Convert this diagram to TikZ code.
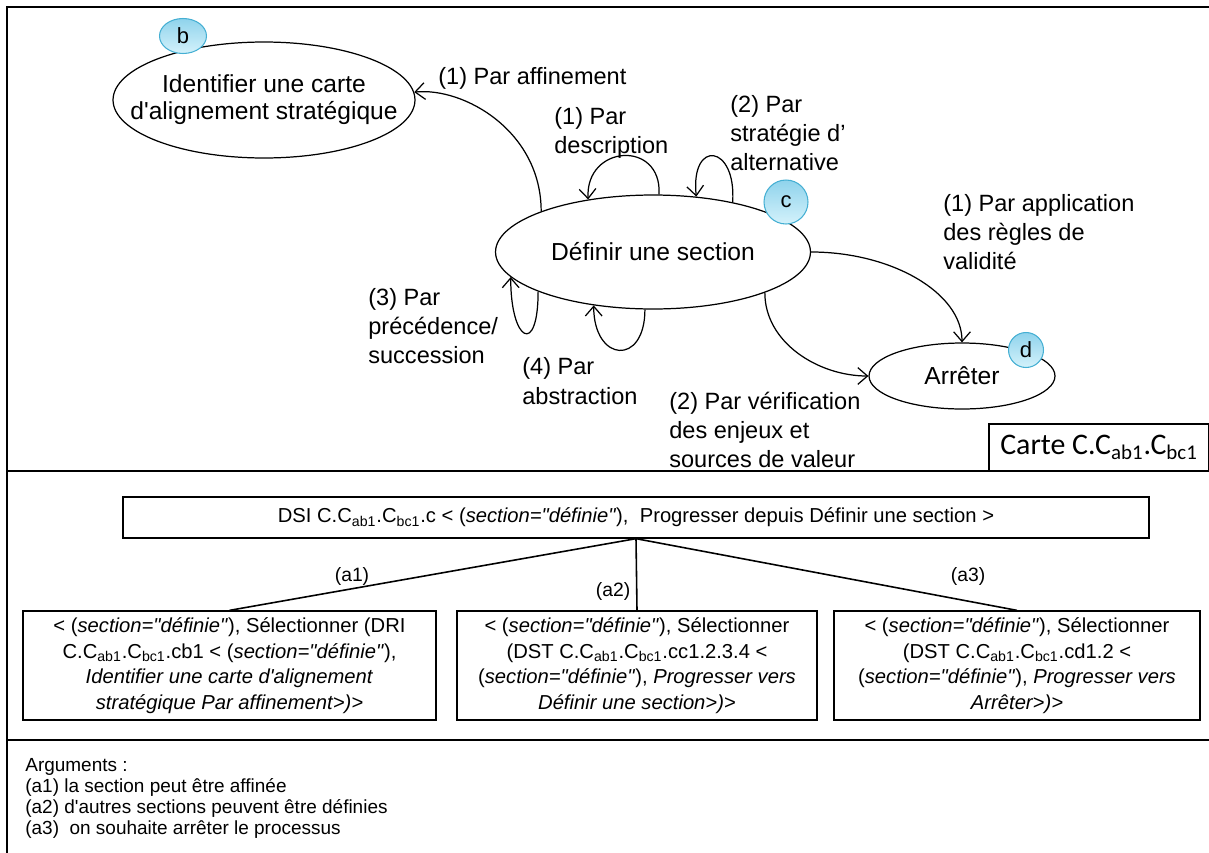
\documentclass[tikz,border=0pt]{standalone}
\usepackage{fontspec}
\setmainfont{Liberation Sans}
\newfontfamily\carlito{Carlito}
\usetikzlibrary{arrows.meta,shapes.geometric}
\definecolor{badgetop}{HTML}{8FD3EC}
\definecolor{badgebot}{HTML}{D4F2FB}
\definecolor{badgeline}{HTML}{45AFD3}
\newcommand{\Cabc}{C.C\textsubscript{ab1}.C\textsubscript{bc1}}
\newcommand{\defi}{\textit{section=\textquotedbl définie\textquotedbl}}

\begin{document}
\begin{tikzpicture}[x=0.02cm, y=-0.02cm,
    goal/.style={ellipse, draw, line width=0.7pt, inner sep=0pt},
    goaltxt/.style={align=center, inner sep=0pt, font=\fontsize{14}{15.3}\selectfont},
    badge/.style={ellipse, draw=badgeline, line width=0.6pt, top color=badgetop, bottom color=badgebot, inner sep=0pt, font=\fontsize{12.5}{14}\selectfont},
    lbl/.style={anchor=west, align=left, inner sep=0pt, font=\fontsize{13.4}{16.7}\selectfont},
    arr/.style={-{Straight Barb[length=5.5pt,width=9.5pt]}, line width=0.7pt},
    sect/.style={draw, line width=0.75pt, align=center, inner sep=2pt, font=\fontsize{11.5}{14.6}\selectfont},
    tree/.style={line width=0.9pt},
    sep/.style={line width=1.2pt}
  ]
  \useasboundingbox (0,0) rectangle (1209,852);
  \draw[sep] (1209.5,7) -- (7,7) -- (7,853);
  \draw[sep] (7,471) -- (1209,471);
  \draw[sep] (7,740) -- (1209,740);

  \node[goal, minimum width=6.04cm, minimum height=2.32cm] (b) at (264,100) {};
  \node[goaltxt] (bt) at (b) {Identifier une carte\\d\textquotesingle alignement stratégique};
  \node[goal, minimum width=6.3cm, minimum height=2.28cm] (c) at (653,252) {};
  \node[goaltxt] (ct) at (c) {Définir une section};
  \node[goal, minimum width=3.72cm, minimum height=1.32cm] (d) at (962,376) {};
  \node[goaltxt] (dt) at (d) {Arrêter};

  \node[badge, minimum width=0.94cm, minimum height=0.70cm] (bb) at (183,36) {b};
  \node[badge, minimum size=0.88cm] (bc) at (786,202) {c};
  \node[badge, minimum size=0.70cm] (bd) at (1026,350) {d};

  \draw[arr] (c.160) .. controls +(0,-80) and +(50,-5) .. (b.3);
  \draw[arr] (c.84) .. controls +(3,-55) and +(-3,-55) .. (c.141);
  \draw[arr] (c.32) .. controls +(4,-58) and +(-6,-58) .. (c.52);
  \draw[arr] (c.199) .. controls +(0,65) and +(0,65) .. (c.190);
  \draw[arr] (c.262) .. controls +(0,57) and +(0,57) .. (c.222);
  \draw[arr] (c.east) .. controls +(80,0) and +(0,-50) .. (d.north);
  \draw[arr] (c.340) .. controls +(0,50) and +(-50,0) .. (d.west);

  \node[lbl] (laff) at (438,78) {(1) Par affinement};
  \node[lbl] (ldesc) at (554,133) {(1) Par\\description};
  \node[lbl] (lalt) at (730,133) {(2) Par\\stratégie d’\\alternative};
  \node[lbl] (lapp) at (943,232) {(1) Par application\\des règles de\\validité};
  \node[lbl] (lver) at (669,430) {(2) Par vérification\\des enjeux et\\sources de valeur};
  \node[lbl] (lprec) at (368,326) {(3) Par\\précédence/\\succession};
  \node[lbl] (labs) at (522,381) {(4) Par\\abstraction};

  \node[draw, line width=0.75pt, minimum width=4.4cm, minimum height=0.94cm, font=\carlito\fontsize{17}{20}\selectfont] (carte) at (1099,447.5) {Carte \Cabc};

  \node[sect, minimum width=20.52cm, minimum height=0.82cm] (dsi) at (636,517.5) {DSI \Cabc.c < (\defi),\ \ Progresser depuis Définir une section >};
  \node[sect, minimum width=8.26cm, minimum height=2.18cm] (a1) at (229.5,665.5) {< (\defi), Sélectionner (DRI\\\Cabc.cb1 < (\defi),\\\textit{Identifier une carte d\textquotesingle alignement}\\\textit{stratégique Par affinement>)>}};
  \node[sect, minimum width=7.2cm, minimum height=2.18cm] (a2) at (637,665.5) {< (\defi), Sélectionner\\(DST \Cabc.cc1.2.3.4 <\\(\defi), \textit{Progresser vers}\\\textit{Définir une section>)>}};
  \node[sect, minimum width=7.32cm, minimum height=2.18cm] (a3) at (1017,665.5) {< (\defi), Sélectionner\\(DST \Cabc.cd1.2 <\\(\defi), \textit{Progresser vers}\\\textit{Arrêter>)>}};

  \draw[tree] (dsi.south) -- (a1.north);
  \draw[tree] (dsi.south) -- (a2.north);
  \draw[tree] (dsi.south) -- (a3.north);
  \node[font=\fontsize{11}{13}\selectfont] (la1) at (352,576) {(a1)};
  \node[font=\fontsize{11}{13}\selectfont] (la2) at (613,591) {(a2)};
  \node[font=\fontsize{11}{13}\selectfont] (la3) at (968,576) {(a3)};

  \node[anchor=north west, align=left, inner sep=0pt, font=\fontsize{10.8}{11.9}\selectfont] (args) at (25,758) {Arguments :\\(a1) la section peut être affinée\\(a2) d\textquotesingle autres sections peuvent être définies\\(a3)\ \ on souhaite arrêter le processus};
\end{tikzpicture}
\end{document}
